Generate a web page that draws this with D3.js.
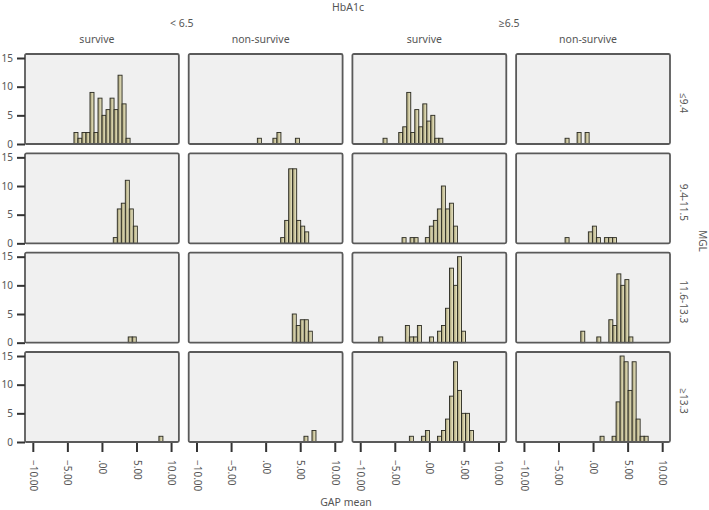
<!DOCTYPE html>
<html><head><meta charset="utf-8">
<script src="https://cdn.jsdelivr.net/npm/d3@7"></script>
<style>
html,body{margin:0;padding:0;background:#fff;}
svg text{font-family:"Noto Sans","Open Sans",sans-serif;fill:#555;}
</style></head>
<body>
<svg id="chart" width="709" height="510"></svg>
<script>
// ---- data ----
const hba1cGroups = ["< 6.5", "≥6.5"];
const outcomeGroups = ["survive", "non-survive"];
const mglGroups = ["≤9.4", "9.4-11.5", "11.6-13.3", "≥13.3"];
const yTicks = [0, 5, 10, 15];
const xTicks = [-10, -5, 0, 5, 10];
const binWidth = 0.58;

// each panel: list of [first bin lower edge (GAP mean), counts of consecutive bins]
const lowSurvive = [
  [[-4.05, [2,1,2,2,9,2,8,5,6,8,6,12,7,1]]],
  [[1.64, [1,6,7,11,6,3]]],
  [[3.8, [1,1]]],
  [[8.24, [1]]]
];
const lowNonSurvive = [
  [[-1.2, [1]], [1.05, [1,2]], [4.3, [1]]],
  [[2.17, [1,4,13,13,4,3,2]]],
  [[3.85, [5,3,4,4,2]]],
  [[5.54, [1,0,2]]]
];
const highSurvive = [
  [[-6.7, [1]], [-4.43, [2,3,9,2,6,3,7,4,5,1,1]]],
  [[-3.95, [1,0,1,1]], [-0.58, [1,3,4,6,10,6,7,3]]],
  [[-7.32, [1]], [-3.47, [3,1,1,3,0,0,1,0,2,3,6,13,10,15,2]]],
  [[-2.89, [1,0,0,1,2,0,0,1,2,4,8,14,9,5,5,2]]]
];
const highNonSurvive = [
  [[-4.05, [1,0,0,2,0,2]]],
  [[-4.05, [1]], [-0.68, [2,3,1,0,1,1,1]]],
  [[-1.78, [2,0,0,0,1,0,0,4,3,12,10,11,1]]],
  [[1.01, [1,0,0,1,7,15,14,9,14,4,1,1]]]
];
const columnData = [lowSurvive, lowNonSurvive, highSurvive, highNonSurvive];

// ---- layout ----
const svg = d3.select("#chart");
const colKeys = [0,1,2,3];
const rowKeys = [0,1,2,3];
const colBand = d3.scaleBand().domain(colKeys).range([25, 670]).paddingInner(0.06);
const rowBand = d3.scaleBand().domain(rowKeys).range([54, 442]).paddingInner(0.094);
const pw = colBand.bandwidth(), ph = rowBand.bandwidth();
const x = d3.scaleLinear().domain([-11.13, 11.13]).range([0, pw]);
const y = d3.scaleLinear().domain([0, 15.7]).range([ph, 0]);

const defs = svg.append("defs");
const grad = defs.append("linearGradient").attr("id","barGrad").attr("x1","0").attr("x2","1").attr("y1","0").attr("y2","0");
grad.append("stop").attr("offset","0%").attr("stop-color","#9a9470");
grad.append("stop").attr("offset","45%").attr("stop-color","#c9c39a");
grad.append("stop").attr("offset","80%").attr("stop-color","#e4e0bf");
grad.append("stop").attr("offset","100%").attr("stop-color","#bdb78f");

// headers
svg.append("text").attr("x", 348).attr("y", 11).attr("text-anchor","middle").attr("font-size", 10.5).text("HbA1c");
hba1cGroups.forEach((g, i) => {
  const cx = (colBand(i*2) + colBand(i*2+1) + pw) / 2;
  svg.append("text").attr("x", cx - 2).attr("y", 27).attr("text-anchor","middle").attr("font-size", 10.5).text(g);
});
colKeys.forEach(c => {
  svg.append("text").attr("x", colBand(c) + pw/2 - 5).attr("y", 43)
    .attr("text-anchor","middle").attr("font-size", 10.5).text(outcomeGroups[c % 2]);
});

// panels
colKeys.forEach(c => {
  rowKeys.forEach(r => {
    const g = svg.append("g").attr("transform", `translate(${colBand(c)},${rowBand(r)})`);
    g.append("rect").attr("width", pw).attr("height", ph).attr("fill", "#f0f0f0");
    const bars = [];
    columnData[c][r].forEach(([start, counts]) => {
      counts.forEach((n, k) => { if (n > 0) bars.push({x0: start + k*binWidth, n}); });
    });
    g.selectAll("rect.bar").data(bars).join("rect").attr("class","bar")
      .attr("x", d => x(d.x0)).attr("width", x(binWidth) - x(0))
      .attr("y", d => y(d.n)).attr("height", d => y(0) - y(d.n))
      .attr("fill", "url(#barGrad)").attr("stroke", "#2b2b22").attr("stroke-width", 0.9);
    g.append("rect").attr("width", pw).attr("height", ph).attr("fill", "none")
      .attr("stroke", "#5a5a5a").attr("stroke-width", 1.8).attr("rx", 1.5);
    if (c === 0) {
      const ya = g.append("g").call(d3.axisLeft(y).tickValues(yTicks).tickSize(8).tickPadding(4));
      ya.select(".domain").remove();
      ya.selectAll("line").attr("stroke", "#333").attr("stroke-width", 2);
      ya.selectAll("text").attr("font-size", 10).style("fill", "#555");
    }
    if (r === 3) {
      const fmt = d => d === 0 ? ".00" : d3.format(".2f")(d).replace("-", "−");
      const xa = g.append("g").attr("transform", `translate(0,${ph + 1})`)
        .call(d3.axisBottom(x).tickValues(xTicks).tickSize(9).tickFormat(fmt));
      xa.select(".domain").remove();
      xa.selectAll("line").attr("stroke", "#333").attr("stroke-width", 2);
      xa.selectAll("text").attr("font-size", 10).style("fill", "#555")
        .attr("transform", "rotate(90)").attr("x", 17).attr("y", 0).attr("dy", "0.35em")
        .attr("text-anchor", "start");
    }
  });
});

// row labels
rowKeys.forEach(r => {
  const cy = rowBand(r) + ph/2 + 4;
  svg.append("text").attr("transform", `translate(683,${cy}) rotate(90)`)
    .attr("text-anchor","middle").attr("dy","0.35em").attr("font-size", 10).text(mglGroups[r]);
});
svg.append("text").attr("transform", `translate(702,241) rotate(90)`)
  .attr("text-anchor","middle").attr("dy","0.35em").attr("font-size", 10).text("MGL");
svg.append("text").attr("x", 346).attr("y", 506).attr("text-anchor","middle").attr("font-size", 10.5).text("GAP mean");
</script>
</body></html>
